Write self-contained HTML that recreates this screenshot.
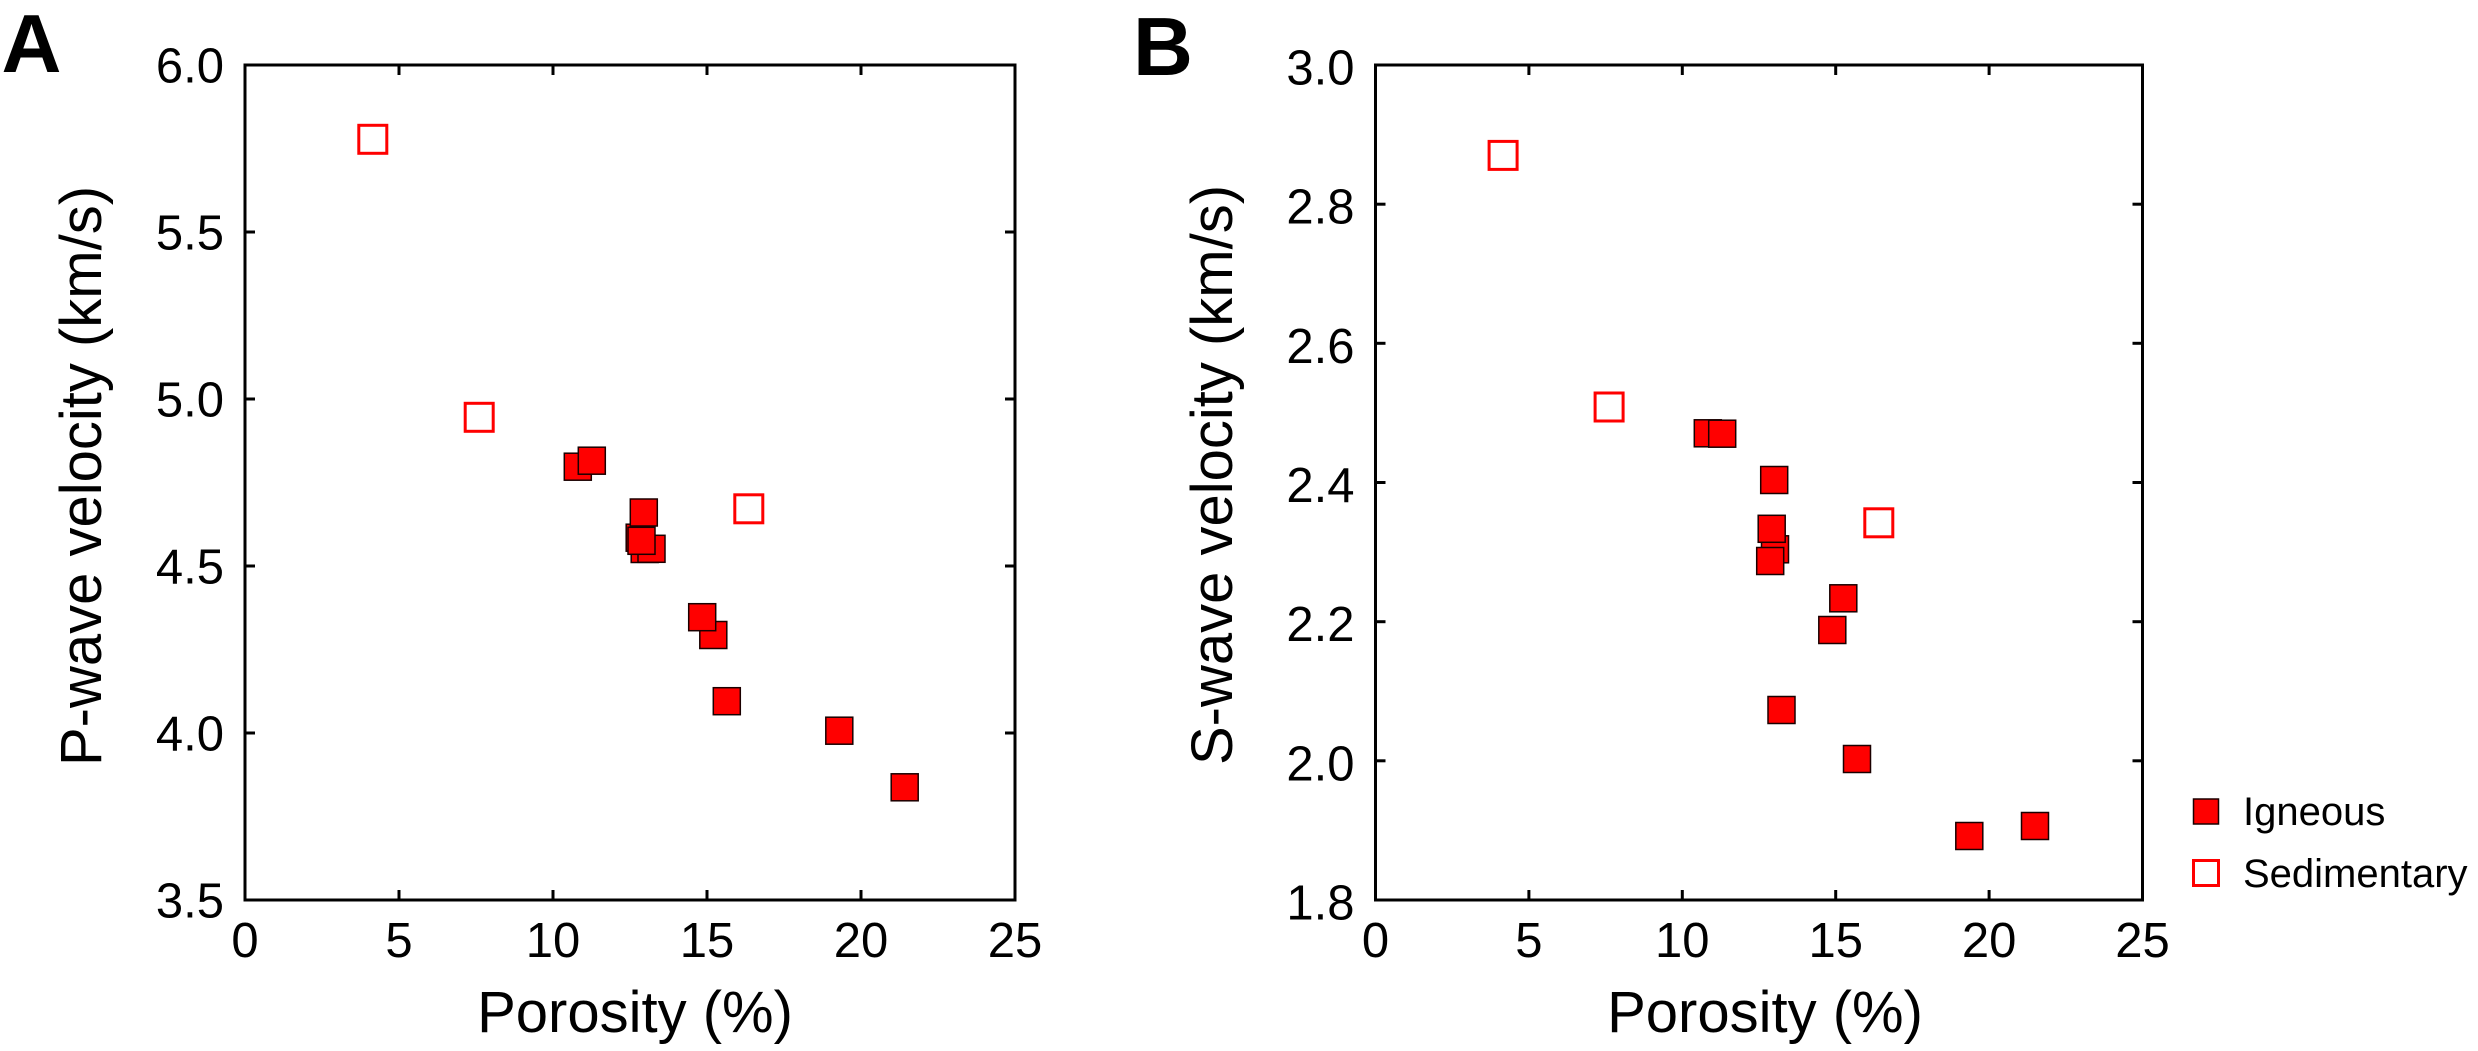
<!DOCTYPE html>
<html>
<head>
<meta charset="utf-8">
<style>
  html, body { margin: 0; padding: 0; background: #ffffff; }
  body { width: 2478px; height: 1051px; overflow: hidden; }
  svg { display: block; }
  text { font-family: "Liberation Sans", Arial, sans-serif; fill: #000; }
</style>
</head>
<body>
<svg width="2478" height="1051" viewBox="0 0 2478 1051" xmlns="http://www.w3.org/2000/svg">
  <rect x="0" y="0" width="2478" height="1051" fill="#ffffff"/>

  <!-- ================= PANEL A ================= -->
  <text x="1.5" y="72" font-size="83" font-weight="bold">A</text>

  <!-- frame -->
  <rect x="245" y="65" width="770" height="835" fill="none" stroke="#000" stroke-width="3"/>
  <!-- x ticks bottom / top -->
  <g stroke="#000" stroke-width="3">
    <line x1="399" y1="900" x2="399" y2="890"/>
    <line x1="553" y1="900" x2="553" y2="890"/>
    <line x1="707" y1="900" x2="707" y2="890"/>
    <line x1="861" y1="900" x2="861" y2="890"/>
    <line x1="399" y1="65" x2="399" y2="75"/>
    <line x1="553" y1="65" x2="553" y2="75"/>
    <line x1="707" y1="65" x2="707" y2="75"/>
    <line x1="861" y1="65" x2="861" y2="75"/>
    <!-- y ticks left / right -->
    <line x1="245" y1="232" x2="255" y2="232"/>
    <line x1="245" y1="399" x2="255" y2="399"/>
    <line x1="245" y1="566" x2="255" y2="566"/>
    <line x1="245" y1="733" x2="255" y2="733"/>
    <line x1="1015" y1="232" x2="1005" y2="232"/>
    <line x1="1015" y1="399" x2="1005" y2="399"/>
    <line x1="1015" y1="566" x2="1005" y2="566"/>
    <line x1="1015" y1="733" x2="1005" y2="733"/>
  </g>
  <!-- y tick labels -->
  <g font-size="49" text-anchor="end">
    <text x="224" y="82.5">6.0</text>
    <text x="224" y="249.5">5.5</text>
    <text x="224" y="416.5">5.0</text>
    <text x="224" y="583.5">4.5</text>
    <text x="224" y="750.5">4.0</text>
    <text x="224" y="917.5">3.5</text>
  </g>
  <!-- x tick labels -->
  <g font-size="49" text-anchor="middle">
    <text x="245" y="957">0</text>
    <text x="399" y="957">5</text>
    <text x="553" y="957">10</text>
    <text x="707" y="957">15</text>
    <text x="861" y="957">20</text>
    <text x="1015" y="957">25</text>
  </g>
  <!-- axis titles -->
  <text x="635" y="1032" font-size="58" text-anchor="middle">Porosity (%)</text>
  <text transform="translate(101,476) rotate(-90)" font-size="58" text-anchor="middle">P-wave velocity (km/s)</text>

  <!-- data A : sedimentary (hollow) -->
  <g fill="#ffffff" stroke="#ff0000" stroke-width="3">
    <rect x="358.8" y="125.3" width="28" height="28"/>
    <rect x="465.2" y="403.3" width="28" height="28"/>
    <rect x="734.8" y="494.8" width="28" height="28"/>
  </g>
  <!-- data A : igneous (filled) -->
  <g fill="#ff0000" stroke="#1a0000" stroke-width="1.5">
    <rect x="564.3" y="453.2" width="27" height="27"/>
    <rect x="578.3" y="447.2" width="27" height="27"/>
    <rect x="626.2" y="524.2" width="27" height="27"/>
    <rect x="631.2" y="535.5" width="27" height="27"/>
    <rect x="638.0" y="535.3" width="27" height="27"/>
    <rect x="630.3" y="499.0" width="27" height="27"/>
    <rect x="628.0" y="527.3" width="27" height="27"/>
    <rect x="699.8" y="621.5" width="27" height="27"/>
    <rect x="688.7" y="603.7" width="27" height="27"/>
    <rect x="713.3" y="687.7" width="27" height="27"/>
    <rect x="825.8" y="717.2" width="27" height="27"/>
    <rect x="891.2" y="773.8" width="27" height="27"/>
  </g>

  <!-- ================= PANEL B ================= -->
  <text x="1133" y="75" font-size="83" font-weight="bold">B</text>

  <rect x="1375.5" y="65" width="767" height="835" fill="none" stroke="#000" stroke-width="3"/>
  <g stroke="#000" stroke-width="3">
    <!-- x ticks -->
    <line x1="1528.9" y1="900" x2="1528.9" y2="890"/>
    <line x1="1682.3" y1="900" x2="1682.3" y2="890"/>
    <line x1="1835.7" y1="900" x2="1835.7" y2="890"/>
    <line x1="1989.1" y1="900" x2="1989.1" y2="890"/>
    <line x1="1528.9" y1="65" x2="1528.9" y2="75"/>
    <line x1="1682.3" y1="65" x2="1682.3" y2="75"/>
    <line x1="1835.7" y1="65" x2="1835.7" y2="75"/>
    <line x1="1989.1" y1="65" x2="1989.1" y2="75"/>
    <!-- y ticks -->
    <line x1="1375.5" y1="204.2" x2="1385.5" y2="204.2"/>
    <line x1="1375.5" y1="343.3" x2="1385.5" y2="343.3"/>
    <line x1="1375.5" y1="482.5" x2="1385.5" y2="482.5"/>
    <line x1="1375.5" y1="621.7" x2="1385.5" y2="621.7"/>
    <line x1="1375.5" y1="760.8" x2="1385.5" y2="760.8"/>
    <line x1="2142.5" y1="204.2" x2="2132.5" y2="204.2"/>
    <line x1="2142.5" y1="343.3" x2="2132.5" y2="343.3"/>
    <line x1="2142.5" y1="482.5" x2="2132.5" y2="482.5"/>
    <line x1="2142.5" y1="621.7" x2="2132.5" y2="621.7"/>
    <line x1="2142.5" y1="760.8" x2="2132.5" y2="760.8"/>
  </g>
  <g font-size="49" text-anchor="end">
    <text x="1354.5" y="84.5">3.0</text>
    <text x="1354.5" y="223.7">2.8</text>
    <text x="1354.5" y="362.8">2.6</text>
    <text x="1354.5" y="502">2.4</text>
    <text x="1354.5" y="641.2">2.2</text>
    <text x="1354.5" y="780.3">2.0</text>
    <text x="1354.5" y="919.5">1.8</text>
  </g>
  <g font-size="49" text-anchor="middle">
    <text x="1375.5" y="957">0</text>
    <text x="1528.9" y="957">5</text>
    <text x="1682.3" y="957">10</text>
    <text x="1835.7" y="957">15</text>
    <text x="1989.1" y="957">20</text>
    <text x="2142.5" y="957">25</text>
  </g>
  <text x="1765" y="1032" font-size="58" text-anchor="middle">Porosity (%)</text>
  <text transform="translate(1232,475) rotate(-90)" font-size="58" text-anchor="middle">S-wave velocity (km/s)</text>

  <!-- data B : sedimentary -->
  <g fill="#ffffff" stroke="#ff0000" stroke-width="3">
    <rect x="1489.1" y="141.4" width="28" height="28"/>
    <rect x="1595.1" y="393.0" width="28" height="28"/>
    <rect x="1864.8" y="508.8" width="28" height="28"/>
  </g>
  <!-- data B : igneous -->
  <g fill="#ff0000" stroke="#1a0000" stroke-width="1.5">
    <rect x="1694.3" y="419.8" width="27" height="27"/>
    <rect x="1708.7" y="420.2" width="27" height="27"/>
    <rect x="1761.5" y="535.8" width="27" height="27"/>
    <rect x="1760.7" y="466.5" width="27" height="27"/>
    <rect x="1758.2" y="515.3" width="27" height="27"/>
    <rect x="1756.7" y="547.5" width="27" height="27"/>
    <rect x="1829.8" y="584.8" width="27" height="27"/>
    <rect x="1818.8" y="616.5" width="27" height="27"/>
    <rect x="1768.0" y="696.5" width="27" height="27"/>
    <rect x="1843.5" y="745.5" width="27" height="27"/>
    <rect x="1955.8" y="822.5" width="27" height="27"/>
    <rect x="2021.5" y="812.5" width="27" height="27"/>
  </g>

  <!-- ================= LEGEND ================= -->
  <rect x="2193.5" y="799" width="25" height="25" fill="#ff0000" stroke="#1a0000" stroke-width="1.5"/>
  <rect x="2193.5" y="860.5" width="25" height="25" fill="#ffffff" stroke="#ff0000" stroke-width="3"/>
  <text x="2243" y="825" font-size="40">Igneous</text>
  <text x="2243" y="887" font-size="40">Sedimentary</text>
</svg>
</body>
</html>
